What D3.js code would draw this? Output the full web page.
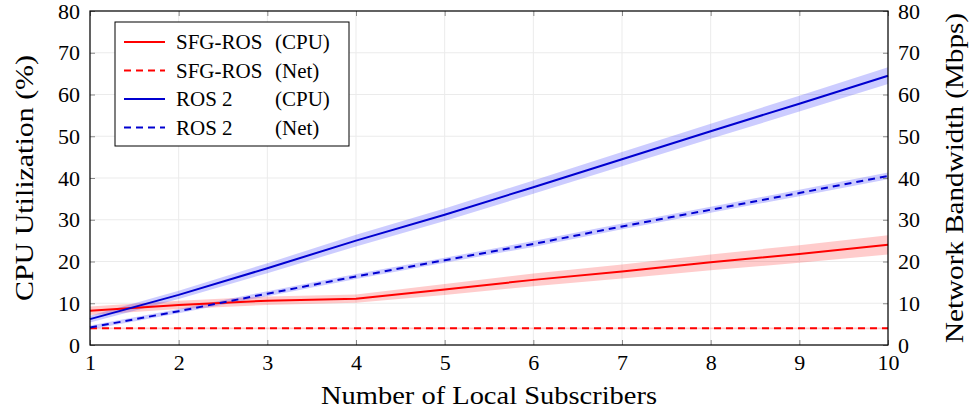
<!DOCTYPE html>
<html>
<head>
<meta charset="utf-8">
<script src="https://cdn.jsdelivr.net/npm/d3@7"></script>
<style>
  body { margin: 0; background: #fff; }
  text { font-family: "Liberation Serif", "DejaVu Serif", serif; fill: #000; }
</style>
</head>
<body>
<div id="chart"></div>
<script>
// Subscriber count vs CPU / network load, SFG-ROS against ROS 2

const subscribers = [1, 2, 3, 4, 5, 6, 7, 8, 9, 10];
const yTicks      = [0, 10, 20, 30, 40, 50, 60, 70, 80];

const sfgCpu     = [8.2, 9.6, 10.6, 11.1, 13.3, 15.6, 17.6, 19.8, 21.8, 24.0];
const sfgCpuErr  = [1.0, 1.0, 1.0, 1.0, 1.3, 1.5, 1.7, 1.9, 2.1, 2.3];
const sfgNet     = [4.0, 4.0, 4.0, 4.0, 4.0, 4.0, 4.0, 4.0, 4.0, 4.0];
const sfgNetErr  = [0.2, 0.2, 0.2, 0.2, 0.2, 0.2, 0.2, 0.2, 0.2, 0.2];
const rosCpu     = [6.2, 12.0, 18.4, 25.0, 31.2, 37.8, 44.5, 51.2, 57.8, 64.5];
const rosCpuErr  = [0.8, 1.0, 1.2, 1.4, 1.5, 1.6, 1.7, 1.8, 1.9, 2.0];
const rosNet     = [4.2, 8.1, 12.3, 16.4, 20.3, 24.2, 28.4, 32.4, 36.4, 40.5];
const rosNetErr  = [0.5, 0.5, 0.6, 0.6, 0.6, 0.7, 0.7, 0.7, 0.8, 0.8];

const series = [
  { name: 'SFG-ROS', kind: '(CPU)', values: sfgCpu, err: sfgCpuErr, color: '#ff0000', band: '#ff0000', dash: null },
  { name: 'SFG-ROS', kind: '(Net)', values: sfgNet, err: sfgNetErr, color: '#ff0000', band: '#ff0000', dash: '7,5' },
  { name: 'ROS 2',   kind: '(CPU)', values: rosCpu, err: rosCpuErr, color: '#0000d0', band: '#0000ff', dash: null },
  { name: 'ROS 2',   kind: '(Net)', values: rosNet, err: rosNetErr, color: '#0000d0', band: '#0000ff', dash: '7,5' }
];

const width = 970, height = 414;
const margin = { top: 11, right: 82, bottom: 69, left: 90 };
const innerW = width - margin.left - margin.right;
const innerH = height - margin.top - margin.bottom;

const svg = d3.select('#chart').append('svg')
              .attr('width', width)
              .attr('height', height);

const x = d3.scaleLinear().domain([1, 10]).range([margin.left, margin.left + innerW]);
const y = d3.scaleLinear().domain([0, 80]).range([margin.top + innerH, margin.top]);

// --- grid ---
const grid = svg.append('g').attr('stroke', '#ebebeb').attr('stroke-width', 1);
grid.selectAll('.gx').data(subscribers).enter().append('line')
    .attr('x1', d => x(d)).attr('x2', d => x(d))
    .attr('y1', margin.top).attr('y2', margin.top + innerH);
grid.selectAll('.gy').data(yTicks).enter().append('line')
    .attr('x1', margin.left).attr('x2', margin.left + innerW)
    .attr('y1', d => y(d)).attr('y2', d => y(d));

// --- bands and lines ---
const area = d3.area()
               .x((d, i) => x(subscribers[i]))
               .y0(d => y(d.lo))
               .y1(d => y(d.hi));
const line = d3.line()
               .x((d, i) => x(subscribers[i]))
               .y(d => y(d));

series.forEach(s => {
  svg.append('path')
     .datum(s.values.map((v, i) => ({ lo: v - s.err[i], hi: v + s.err[i] })))
     .attr('d', area)
     .attr('fill', s.band)
     .attr('fill-opacity', 0.2);
});
series.forEach(s => {
  svg.append('path')
     .datum(s.values)
     .attr('d', line)
     .attr('fill', 'none')
     .attr('stroke', s.color)
     .attr('stroke-width', 2)
     .attr('stroke-dasharray', s.dash);
});

// --- axes (ticks point inward, like pgfplots) ---
const tickLen = 5;
function styleAxis(g) {
  g.select('.domain').remove();
  g.selectAll('.tick line').attr('stroke', '#888');
  g.selectAll('.tick text').style('font-size', '22px');
}

svg.append('g')
   .attr('transform', `translate(0,${margin.top + innerH})`)
   .call(d3.axisBottom(x).tickValues(subscribers).tickSize(-tickLen).tickPadding(9).tickFormat(d3.format('d')))
   .call(styleAxis);
svg.append('g')
   .attr('transform', `translate(0,${margin.top})`)
   .call(d3.axisTop(x).tickValues(subscribers).tickSize(-tickLen).tickFormat(''))
   .call(styleAxis);
svg.append('g')
   .attr('transform', `translate(${margin.left},0)`)
   .call(d3.axisLeft(y).tickValues(yTicks).tickSize(-tickLen).tickPadding(10))
   .call(styleAxis);
svg.append('g')
   .attr('transform', `translate(${margin.left + innerW},0)`)
   .call(d3.axisRight(y).tickValues(yTicks).tickSize(-tickLen).tickPadding(10))
   .call(styleAxis);

// frame
svg.append('rect')
   .attr('x', margin.left).attr('y', margin.top)
   .attr('width', innerW).attr('height', innerH)
   .attr('fill', 'none').attr('stroke', '#000').attr('stroke-width', 1.2);

// --- axis titles ---
svg.append('text')
   .attr('x', margin.left + innerW / 2).attr('y', 404)
   .attr('text-anchor', 'middle').style('font-size', '25px')
   .attr('textLength', 336).attr('lengthAdjust', 'spacingAndGlyphs')
   .text('Number of Local Subscribers');
svg.append('text')
   .attr('transform', `translate(33,${margin.top + innerH / 2}) rotate(-90)`)
   .attr('text-anchor', 'middle').style('font-size', '25px')
   .attr('textLength', 246).attr('lengthAdjust', 'spacingAndGlyphs')
   .text('CPU Utilization (%)');
svg.append('text')
   .attr('transform', `translate(963,${margin.top + innerH / 2}) rotate(-90)`)
   .attr('text-anchor', 'middle').style('font-size', '25px')
   .attr('textLength', 330).attr('lengthAdjust', 'spacingAndGlyphs')
   .text('Network Bandwidth (Mbps)');

// --- legend ---
const legend = svg.append('g').attr('transform', 'translate(115,22)');
legend.append('rect')
      .attr('width', 234).attr('height', 124)
      .attr('fill', '#fff').attr('stroke', '#000').attr('stroke-width', 1);
series.forEach((s, i) => {
  const ly = 20 + i * 28.5;
  legend.append('line')
        .attr('x1', 9).attr('x2', 50).attr('y1', ly).attr('y2', ly)
        .attr('stroke', s.color).attr('stroke-width', 2)
        .attr('stroke-dasharray', s.dash);
  legend.append('text').attr('x', 61).attr('y', ly + 7)
        .style('font-size', '21px').text(s.name);
  legend.append('text').attr('x', 160).attr('y', ly + 7)
        .style('font-size', '21px').text(s.kind);
});
</script>
</body>
</html>
